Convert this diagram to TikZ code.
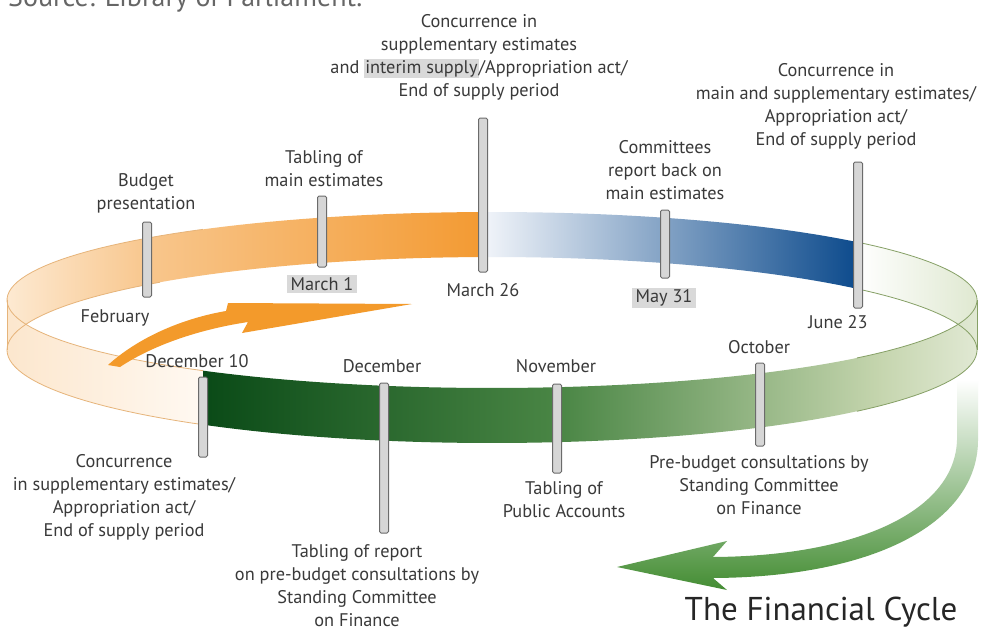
\documentclass[tikz,border=0pt]{standalone}
\usepackage{fontspec}
\setmainfont{PT Sans}
\usetikzlibrary{positioning}

\definecolor{txt}{HTML}{3A3A3A}
\definecolor{hl}{HTML}{D9D9D9}
\definecolor{tickline}{HTML}{6B6B6B}
\definecolor{tickfill}{HTML}{D6D6D6}
\definecolor{bkA}{HTML}{FDEBD5}
\definecolor{bkB}{HTML}{F8C68C}
\definecolor{bkC}{HTML}{F39A32}
\definecolor{bluA}{HTML}{F2F5FA}
\definecolor{bluB}{HTML}{0C4A8C}
\definecolor{gnP}{HTML}{DCE6CC}
\definecolor{frA}{HTML}{FCE6CC}
\definecolor{frB}{HTML}{FFF9F2}
\definecolor{gnA}{HTML}{0A4A17}
\definecolor{gnB}{HTML}{4A8645}
\definecolor{gnC}{HTML}{C5D5AE}
\definecolor{gnD}{HTML}{E4EBD8}
\definecolor{bandtan}{HTML}{E6B47A}
\definecolor{bandgreen}{HTML}{86A066}
\definecolor{arrorange}{HTML}{F39A2B}
\definecolor{arrgreen}{HTML}{3F8A2E}

\tikzset{
  tickbar/.style={draw=tickline, fill=tickfill, line width=1pt, rounded corners=1.5pt,
    minimum width=9pt, inner sep=0pt},
  lbl/.style={text=txt, align=center, font=\fontsize{18.3}{23}\selectfont, inner sep=0pt},
  datebox/.style={lbl, fill=hl, inner xsep=4pt, inner ysep=2pt}
}

\begin{document}
\begin{tikzpicture}[x=1pt,y=-1pt]
  \useasboundingbox (0,0) rectangle (984,632);
  \fill[white] (0,0) rectangle (984,632);

  % source line, cut at the top
  \node[anchor=base west, text=black!60, font=\fontsize{28}{32}\selectfont, inner sep=0pt]
    (source) at (8,6) {Source: Library of Parliament.};

  % back half of the ring
  \begin{scope}
    \clip plot[domain=180:360,samples=90] ({492+485*cos(\x)},{300+88*sin(\x)})
      -- plot[domain=360:180,samples=90] ({492+485*cos(\x)},{350+93*sin(\x)}) -- cycle;
    \shade[left color=bkA, right color=bkB] (0,150) rectangle (150,360);
    \shade[left color=bkB, right color=bkC] (149,150) rectangle (484,360);
    \shade[left color=bluA, right color=bluB] (483,150) rectangle (858,360);
    \shade[left color=white, right color=gnP] (857,150) rectangle (990,360);
  \end{scope}

  % green arrow, under the front of the ring
  \begin{scope}
    \clip (957,340) -- (957,440) .. controls (955,510) and (860,556) .. (713,557)
      -- (727,541) -- (617,567) -- (727,590) -- (713,578)
      .. controls (880,577) and (978,520) .. (978,440) -- (978,340) -- cycle;
    \shade[top color=white, bottom color=arrgreen] (600,380) rectangle (990,595);
  \end{scope}

  % front half of the ring
  \begin{scope}
    \clip plot[domain=0:180,samples=90] ({492+485*cos(\x)},{300+88*sin(\x)})
      -- plot[domain=180:0,samples=90] ({492+485*cos(\x)},{350+93*sin(\x)}) -- cycle;
    \shade[left color=frA, right color=frB] (0,280) rectangle (204,460);
    \shade[left color=gnA, right color=gnB] (203,280) rectangle (560,460);
    \shade[left color=gnB, right color=gnC] (559,280) rectangle (880,460);
    \shade[left color=gnC, right color=gnD] (879,280) rectangle (990,460);
  \end{scope}

  % edges of the pale ends
  \draw[bandtan, line width=0.8pt] plot[domain=126.6:233.4,samples=50] ({492+485*cos(\x)},{300+88*sin(\x)});
  \draw[bandtan, line width=0.8pt] plot[domain=126.6:226.8,samples=50] ({492+485*cos(\x)},{350+93*sin(\x)});
  \draw[bandtan, line width=0.8pt] (7,300) -- (7,350);
  \draw[bandgreen, line width=0.8pt] plot[domain=-41.2:41.2,samples=50] ({492+485*cos(\x)},{300+88*sin(\x)});
  \draw[bandgreen, line width=0.8pt] plot[domain=-41.2:41.2,samples=50] ({492+485*cos(\x)},{350+93*sin(\x)});
  \draw[bandgreen, line width=0.8pt] (977,300) -- (977,350);

  % orange arrow
  \fill[arrorange] (108,365) .. controls (140,336) and (185,318) .. (226,311) -- (228,303)
    -- (412,304) -- (242,333) -- (248,322) .. controls (195,330) and (150,347) .. (120,367) -- cycle;

  % ticks
  \node[tickbar, minimum height=75pt] (tbud) at (147,259.5) {};
  \node[tickbar, minimum height=71pt] (tmarone) at (322,231.5) {};
  \node[tickbar, minimum height=154pt] (tmarsix) at (483,195) {};
  \node[tickbar, minimum height=68pt] (tmay) at (665,244) {};
  \node[tickbar, minimum height=146pt] (tjun) at (858,235) {};
  \node[tickbar, minimum height=80pt] (tdecten) at (203,417) {};
  \node[tickbar, minimum height=150pt] (tdec) at (384,458) {};
  \node[tickbar, minimum height=89pt] (tnov) at (557,428.5) {};
  \node[tickbar, minimum height=83pt] (toct) at (760,404.5) {};

  % dates
  \node[lbl] (dfeb) at (115,318) {February};
  \node[datebox] (dmarone) at (322,284) {March 1};
  \node[lbl] (dmarsix) at (483,290) {March 26};
  \node[datebox] (dmay) at (664,298) {May 31};
  \node[lbl] (djun) at (838,322) {June 23};
  \node[lbl] (doct) at (759,347) {October};
  \node[lbl] (dnov) at (556,366) {November};
  \node[lbl] (ddec) at (382,366) {December};
  \node[lbl] (ddecten) at (197,361) {December 10};

  % events
  \node[lbl] (ebud) at (146,193) {Budget\\presentation};
  \node[lbl] (emain) at (324,169) {Tabling of\\main estimates};
  \node[lbl] (einterim) at (479,57) {Concurrence in\\supplementary estimates\\and
    {\setlength\fboxsep{1pt}\colorbox{hl}{interim supply}}/Appropriation act/\\End of supply period};
  \node[lbl] (ecomm) at (665,170) {Committees\\report back on\\main estimates};
  \node[lbl] (ejune) at (836,106) {Concurrence in\\main and supplementary estimates/\\Appropriation act/\\End of supply period};
  \node[lbl] (edecten) at (124,497) {Concurrence\\in supplementary estimates/\\Appropriation act/\\End of supply period};
  \node[lbl] (ereport) at (357,586) {Tabling of report\\on pre-budget consultations by\\Standing Committee\\on Finance};
  \node[lbl] (epublic) at (564,500) {Tabling of\\Public Accounts};
  \node[lbl] (eprebud) at (759,485) {Pre-budget consultations by\\Standing Committee\\on Finance};

  \node[text=black!85, font=\fontsize{33}{38}\selectfont, inner sep=0pt] (title) at (821,612) {The Financial Cycle};
\end{tikzpicture}
\end{document}
